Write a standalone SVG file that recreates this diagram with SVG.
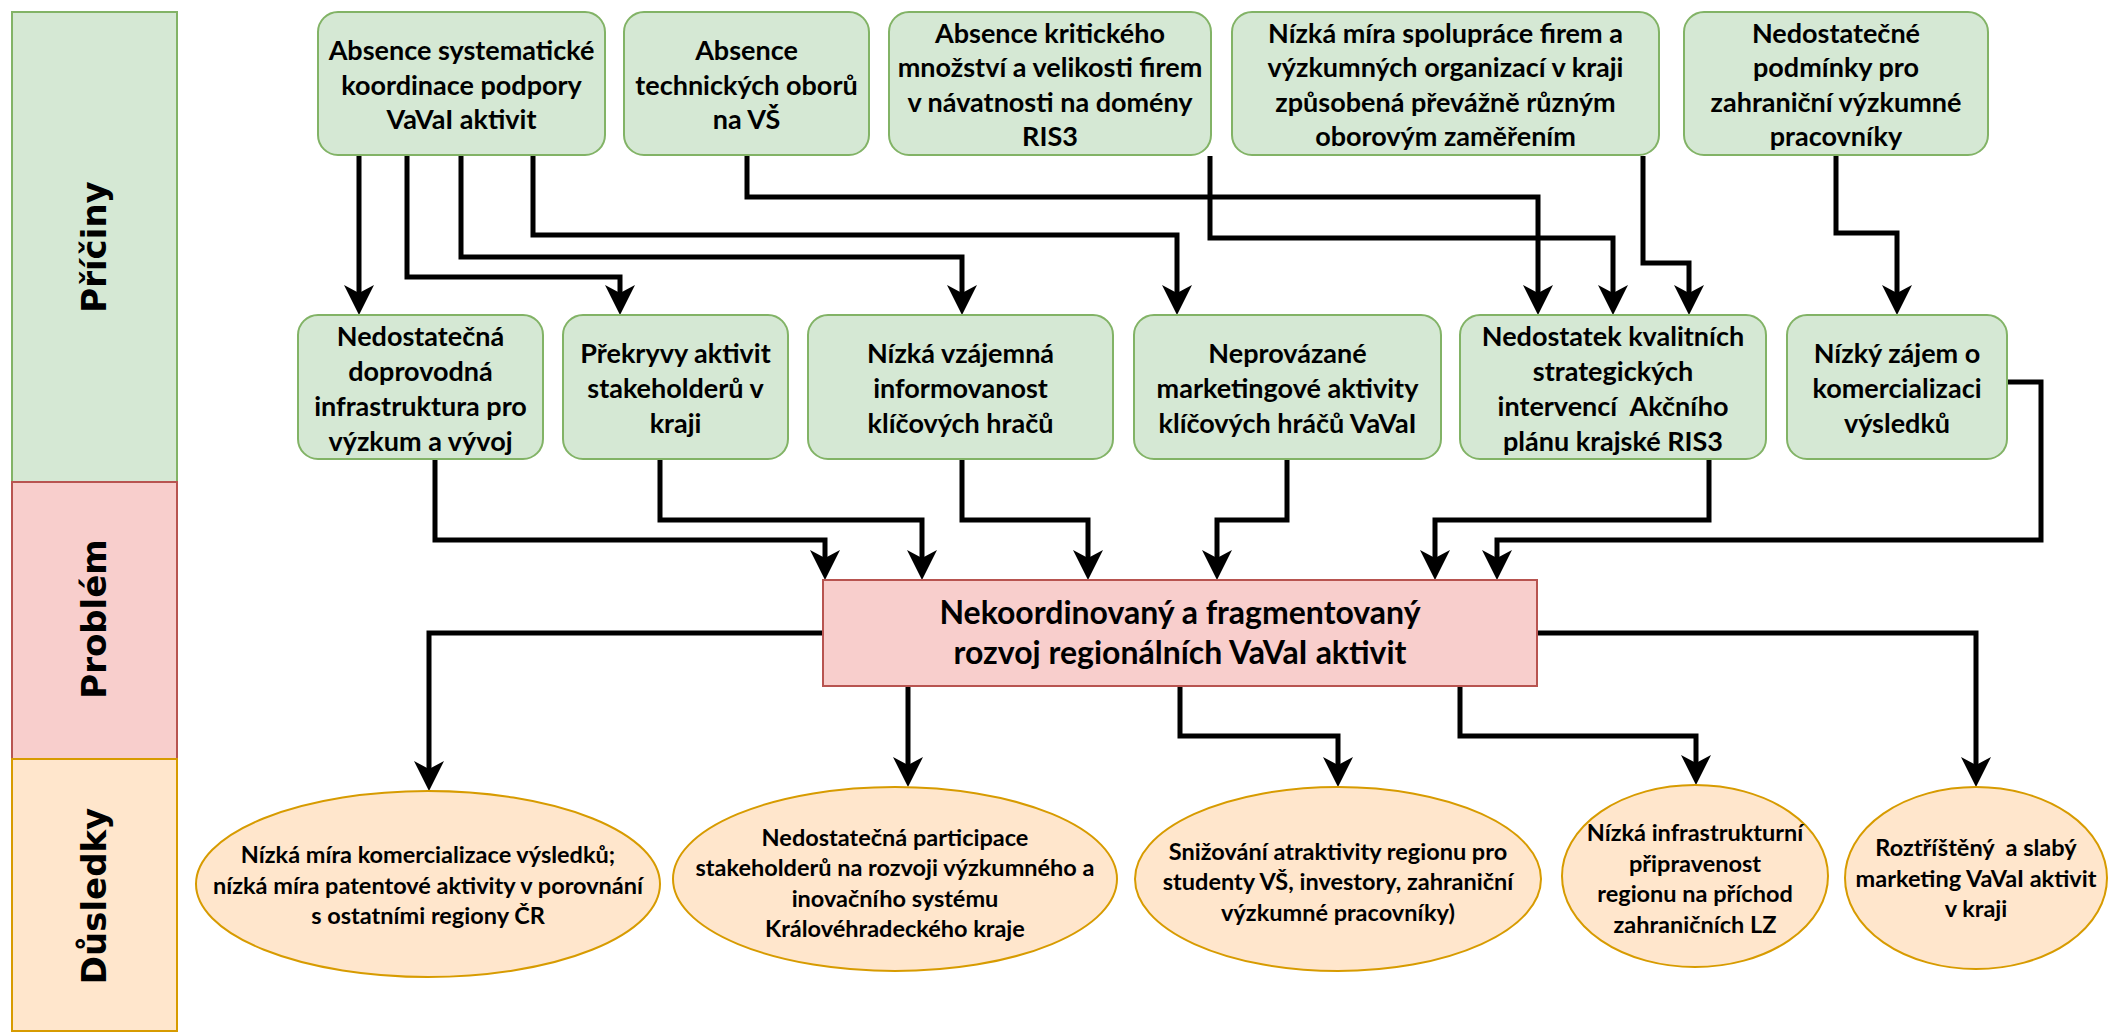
<svg xmlns="http://www.w3.org/2000/svg" width="2114" height="1032" viewBox="0 0 2114 1032">
<defs>
<style>
.band-g{fill:#d5e8d4;stroke:#82b366;stroke-width:2}
.band-r{fill:#f8cecc;stroke:#b85450;stroke-width:2}
.band-o{fill:#ffe6cc;stroke:#d79b00;stroke-width:2}
.bl{font-family:"DejaVu Sans",Verdana,sans-serif;font-weight:bold;font-size:34px;fill:#000;text-anchor:middle;dominant-baseline:central}
.cause{fill:#d5e8d4;stroke:#82b366;stroke-width:2}
.prob{fill:#f8cecc;stroke:#b85450;stroke-width:2}
.eff{fill:#ffe6cc;stroke:#d79b00;stroke-width:2}
.t{font-family:Lato,Carlito,"Liberation Sans",sans-serif;font-weight:bold;font-size:27px;fill:#000;text-anchor:middle}
.tp{font-family:Lato,Carlito,"Liberation Sans",sans-serif;font-weight:bold;font-size:32px;fill:#000;text-anchor:middle}
.te{font-family:Lato,Carlito,"Liberation Sans",sans-serif;font-weight:bold;font-size:23.5px;fill:#000;text-anchor:middle}
.c{fill:none;stroke:#000;stroke-width:5;stroke-linejoin:miter;marker-end:url(#ah)}
</style>
<marker id="ah" viewBox="0 0 30 30" refX="10" refY="15" markerWidth="30" markerHeight="30" markerUnits="userSpaceOnUse" orient="auto">
<path d="M0,0 L30,15 L0,30 L8,15 Z" fill="#000"/>
</marker>
</defs>
<rect width="2114" height="1032" fill="#fff"/>

<g id="band-priciny">
<rect class="band-g" x="12" y="12" width="165" height="470"/>
<text class="bl" transform="translate(94,247) rotate(-90)">Příčiny</text>
</g>
<g id="band-problem">
<rect class="band-r" x="12" y="482" width="165" height="277"/>
<text class="bl" transform="translate(94,619) rotate(-90)">Problém</text>
</g>
<g id="band-dusledky">
<rect class="band-o" x="12" y="759" width="165" height="272"/>
<text class="bl" transform="translate(94,896) rotate(-90)">Důsledky</text>
</g>

<g id="connectors">
<path class="c" d="M359,156 V295"/>
<path class="c" d="M407,156 V277 H620 V295"/>
<path class="c" d="M461,156 V257 H962 V295"/>
<path class="c" d="M533,156 V235 H1177 V295"/>
<path class="c" d="M747,156 V197 H1538 V295"/>
<path class="c" d="M1210,156 V238 H1613 V295"/>
<path class="c" d="M1643,156 V263 H1689 V295"/>
<path class="c" d="M1836,156 V233 H1897 V295"/>
<path class="c" d="M435,459 V540 H825 V560"/>
<path class="c" d="M660,459 V520 H922 V560"/>
<path class="c" d="M962,459 V520 H1088 V560"/>
<path class="c" d="M1287,459 V520 H1217 V560"/>
<path class="c" d="M1709,459 V520 H1435 V560"/>
<path class="c" d="M2007,382 H2041 V540 H1497 V560"/>
<path class="c" d="M823,633 H429 V771"/>
<path class="c" d="M908,686 V767"/>
<path class="c" d="M1180,686 V736 H1338 V767"/>
<path class="c" d="M1460,686 V736 H1696 V765"/>
<path class="c" d="M1537,633 H1976 V767"/>
</g>

<g id="a1">
<rect class="cause" x="318" y="12" width="287" height="143" rx="20"/>
<text class="t"><tspan x="461.5" y="60">Absence systematické</tspan><tspan x="461.5" y="94.5">koordinace podpory</tspan><tspan x="461.5" y="129">VaVaI aktivit</tspan></text>
</g>
<g id="a2">
<rect class="cause" x="624" y="12" width="245" height="143" rx="20"/>
<text class="t"><tspan x="746.5" y="60">Absence</tspan><tspan x="746.5" y="94.5">technických oborů</tspan><tspan x="746.5" y="129">na VŠ</tspan></text>
</g>
<g id="a3">
<rect class="cause" x="889" y="12" width="322" height="143" rx="20"/>
<text class="t"><tspan x="1050" y="42.5">Absence kritického</tspan><tspan x="1050" y="77">množství a velikosti firem</tspan><tspan x="1050" y="111.5">v návatnosti na domény</tspan><tspan x="1050" y="146">RIS3</tspan></text>
</g>
<g id="a4">
<rect class="cause" x="1232" y="12" width="427" height="143" rx="20"/>
<text class="t"><tspan x="1445.5" y="42.5">Nízká míra spolupráce firem a</tspan><tspan x="1445.5" y="77">výzkumných organizací v kraji</tspan><tspan x="1445.5" y="111.5">způsobená převážně různým</tspan><tspan x="1445.5" y="146">oborovým zaměřením</tspan></text>
</g>
<g id="a5">
<rect class="cause" x="1684" y="12" width="304" height="143" rx="20"/>
<text class="t"><tspan x="1836" y="42.5">Nedostatečné</tspan><tspan x="1836" y="77">podmínky pro</tspan><tspan x="1836" y="111.5">zahraniční výzkumné</tspan><tspan x="1836" y="146">pracovníky</tspan></text>
</g>

<g id="b1">
<rect class="cause" x="298" y="315" width="245" height="144" rx="20"/>
<text class="t"><tspan x="420.5" y="345.5">Nedostatečná</tspan><tspan x="420.5" y="380.5">doprovodná</tspan><tspan x="420.5" y="415.5">infrastruktura pro</tspan><tspan x="420.5" y="450.5">výzkum a vývoj</tspan></text>
</g>
<g id="b2">
<rect class="cause" x="563" y="315" width="225" height="144" rx="20"/>
<text class="t"><tspan x="675.5" y="363">Překryvy aktivit</tspan><tspan x="675.5" y="398">stakeholderů v</tspan><tspan x="675.5" y="433">kraji</tspan></text>
</g>
<g id="b3">
<rect class="cause" x="808" y="315" width="305" height="144" rx="20"/>
<text class="t"><tspan x="960.5" y="363">Nízká vzájemná</tspan><tspan x="960.5" y="398">informovanost</tspan><tspan x="960.5" y="433">klíčových hračů</tspan></text>
</g>
<g id="b4">
<rect class="cause" x="1134" y="315" width="307" height="144" rx="20"/>
<text class="t"><tspan x="1287.5" y="363">Neprovázané</tspan><tspan x="1287.5" y="398">marketingové aktivity</tspan><tspan x="1287.5" y="433">klíčových hráčů VaVaI</tspan></text>
</g>
<g id="b5">
<rect class="cause" x="1460" y="315" width="306" height="144" rx="20"/>
<text class="t" xml:space="preserve"><tspan x="1613" y="345.5">Nedostatek kvalitních</tspan><tspan x="1613" y="380.5">strategických</tspan><tspan x="1613" y="415.5">intervencí  Akčního</tspan><tspan x="1613" y="450.5">plánu krajské RIS3</tspan></text>
</g>
<g id="b6">
<rect class="cause" x="1787" y="315" width="220" height="144" rx="20"/>
<text class="t"><tspan x="1897" y="363">Nízký zájem o</tspan><tspan x="1897" y="398">komercializaci</tspan><tspan x="1897" y="433">výsledků</tspan></text>
</g>

<g id="problem">
<rect class="prob" x="823" y="580" width="714" height="106"/>
<text class="tp"><tspan x="1180" y="624">Nekoordinovaný a fragmentovaný</tspan><tspan x="1180" y="664">rozvoj regionálních VaVaI aktivit</tspan></text>
</g>

<g id="e1">
<ellipse class="eff" cx="428" cy="884" rx="232" ry="93"/>
<text class="te"><tspan x="428" y="862.5">Nízká míra komercializace výsledků;</tspan><tspan x="428" y="893.5">nízká míra patentové aktivity v porovnání</tspan><tspan x="428" y="923.5">s ostatními regiony ČR</tspan></text>
</g>
<g id="e2">
<ellipse class="eff" cx="895" cy="879" rx="222" ry="92"/>
<text class="te"><tspan x="895" y="846">Nedostatečná participace</tspan><tspan x="895" y="876">stakeholderů na rozvoji výzkumného a</tspan><tspan x="895" y="907">inovačního systému</tspan><tspan x="895" y="937">Královéhradeckého kraje</tspan></text>
</g>
<g id="e3">
<ellipse class="eff" cx="1338" cy="879" rx="203" ry="92"/>
<text class="te"><tspan x="1338" y="859.5">Snižování atraktivity regionu pro</tspan><tspan x="1338" y="890">studenty VŠ, investory, zahraniční</tspan><tspan x="1338" y="920.5">výzkumné pracovníky)</tspan></text>
</g>
<g id="e4">
<ellipse class="eff" cx="1695" cy="876" rx="133" ry="91"/>
<text class="te"><tspan x="1695" y="841">Nízká infrastrukturní</tspan><tspan x="1695" y="872">připravenost</tspan><tspan x="1695" y="902">regionu na příchod</tspan><tspan x="1695" y="933">zahraničních LZ</tspan></text>
</g>
<g id="e5">
<ellipse class="eff" cx="1976" cy="878" rx="131" ry="91"/>
<text class="te" xml:space="preserve"><tspan x="1976" y="856">Roztříštěný  a slabý</tspan><tspan x="1976" y="886.5">marketing VaVaI aktivit</tspan><tspan x="1976" y="917">v kraji</tspan></text>
</g>
</svg>
